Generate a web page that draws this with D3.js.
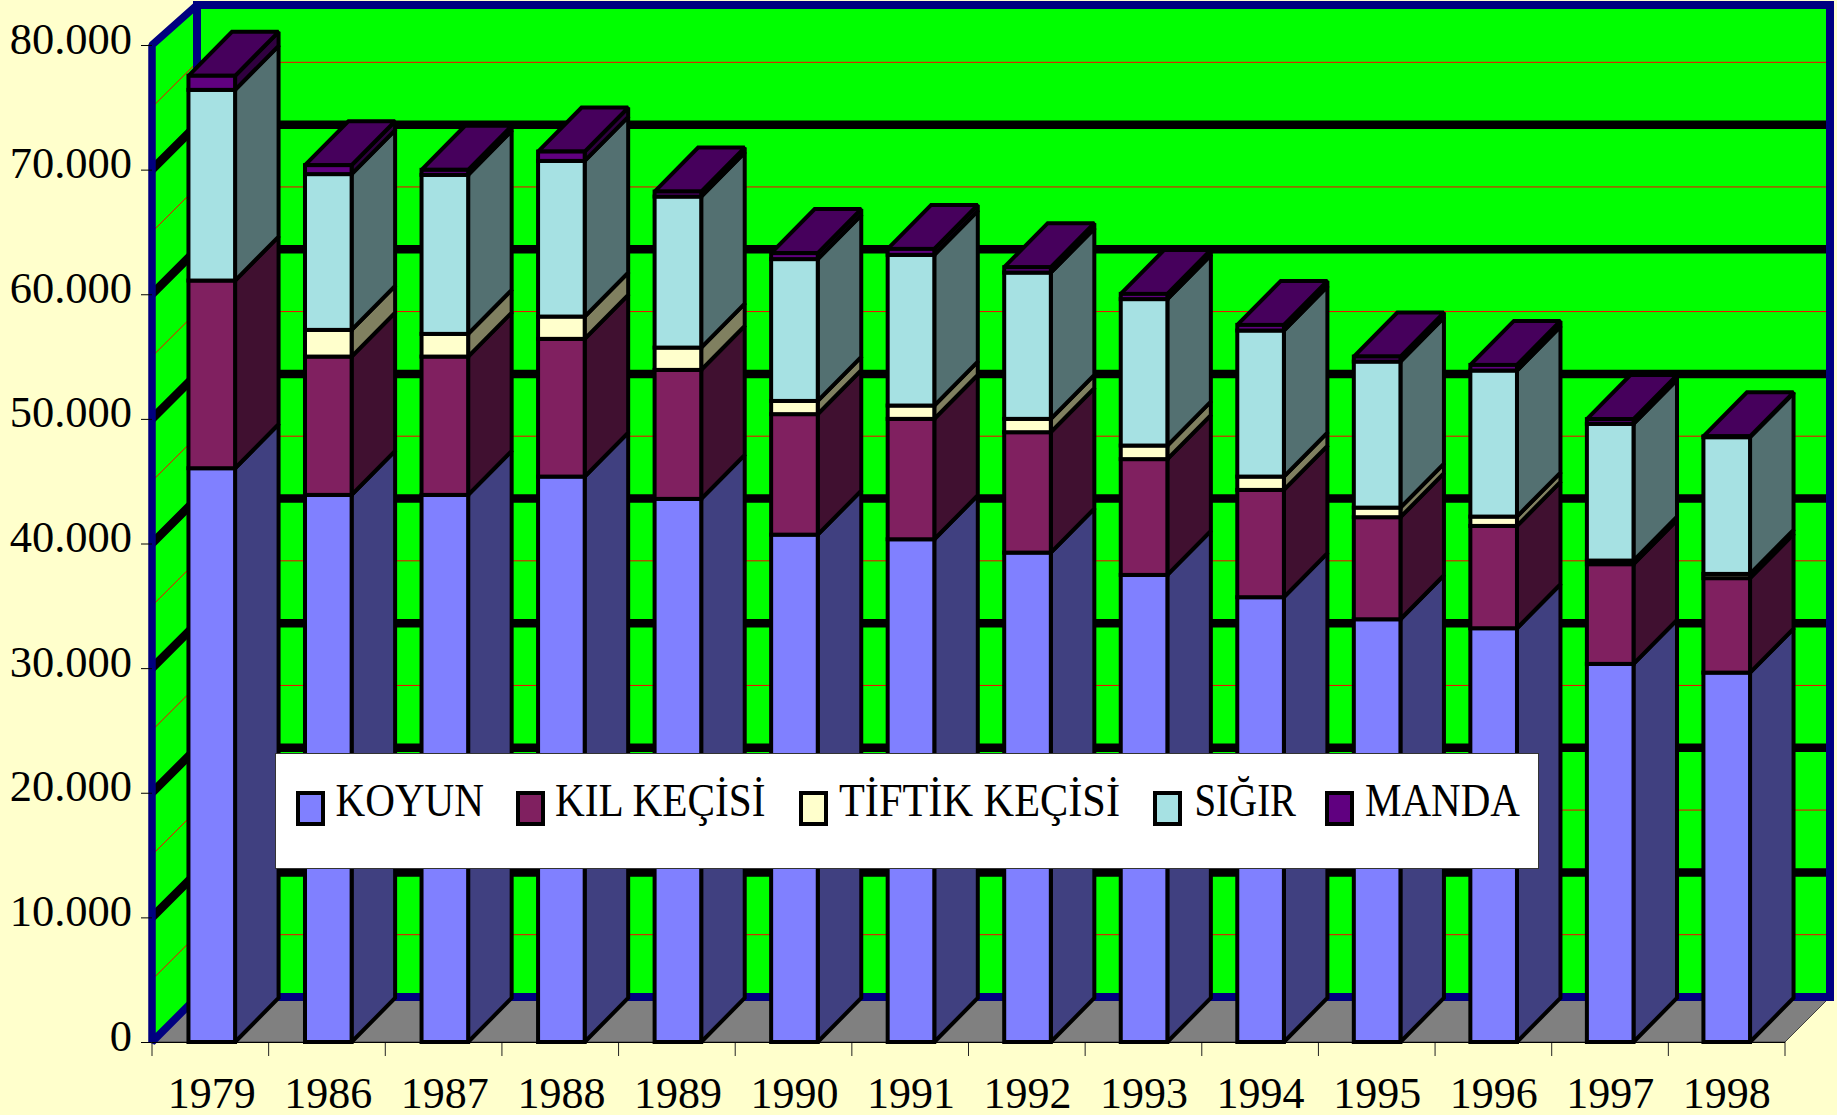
<!DOCTYPE html>
<html><head><meta charset="utf-8">
<script src="https://cdn.jsdelivr.net/npm/d3@7/dist/d3.min.js"></script>
<style>html,body{margin:0;padding:0;background:#FFFFCC;overflow:hidden}svg{display:block}text{font-family:"Liberation Serif",serif;fill:#000}</style>
</head><body><script>
const years = ["1979","1986","1987","1988","1989","1990","1991","1992","1993","1994","1995","1996","1997","1998"];
const koyun  = [46040,43900,43900,45370,43580,40710,40340,39270,37480,35690,33920,33200,30340,29640];
const kil    = [15060,11100,11100,11050,10350,9670,9660,9660,9290,8610,8190,8210,8000,7580];
const tiftik = [0,2140,1820,1790,1790,1060,1070,1070,1090,1070,770,750,290,340];
const sigir  = [15300,12500,12760,12490,12120,11380,12090,11740,11750,11720,11720,11720,10970,10970];
const manda  = [1130,720,400,750,400,480,480,430,420,450,400,450,380,70];
const seriesNames = ["KOYUN","KIL KEÇİSİ","TİFTİK KEÇİSİ","SIĞIR","MANDA"];
const seriesValues = [koyun,kil,tiftik,sigir,manda];
const frontColors = ["#8080FF","#802060","#FFFFCC","#A6E1E3","#600080"];
const sideColors  = ["#404080","#401030","#808060","#537071","#300040"];
const topColor = "#46005C";
const majorTicks = [0,10000,20000,30000,40000,50000,60000,70000,80000];
const minorGrid = [5000,15000,25000,35000,45000,55000,65000,75000];
const legendSwatchX = [296,516,799,1153,1325];
const legendTextX = [335.5,555,839,1194.5,1365];
const legendTextW = [148.5,210.5,281,101.5,155];

const W=1837,H=1115,x0=152,x1=1785,yB=1042,yT=45,wallDx=45,wallDy=-45,wallTop=5,barDx=43.5,barDy=-44;
const svg=d3.select("body").append("svg").attr("width",W).attr("height",H);
svg.append("rect").attr("width",W).attr("height",H).attr("fill","#FFFFCC");

const x=d3.scaleBand().domain(years).range([x0+1.5,x1]).paddingInner(0.6).paddingOuter(0.3);
const y=d3.scaleLinear().domain([0,80000]).range([yB,yT]);
const pts=a=>a.map(p=>p.join(",")).join(" ");

// floor
svg.append("polygon").attr("points",pts([[x0,yB],[x1,yB],[x1+wallDx,yB+wallDy],[x0+wallDx,yB+wallDy]]))
  .attr("fill","#808080").attr("stroke","#404040").attr("stroke-width",1);
// back wall
const backH=yB+wallDy-wallTop;
svg.append("rect").attr("x",x0+wallDx).attr("y",wallTop).attr("width",x1-x0).attr("height",backH).attr("fill","#00FF00");
// left wall
const leftWall=[[x0,yT],[x0+wallDx,wallTop],[x0+wallDx,yB+wallDy],[x0,yB]];
svg.append("polygon").attr("points",pts(leftWall)).attr("fill","#00FF00");

// gridlines
const grid=svg.append("g").attr("fill","none");
const gridPath=v=>`M${x0},${y(v)}L${x0+wallDx},${y(v)+wallDy}L${x1+wallDx},${y(v)+wallDy}`;
grid.selectAll(".minor").data(minorGrid).join("path").attr("d",gridPath).attr("stroke","#FF0000").attr("stroke-width",1);
grid.selectAll(".major").data(majorTicks.slice(1,-1)).join("path").attr("d",gridPath).attr("stroke","#000").attr("stroke-width",8.5);

// wall borders
svg.append("rect").attr("x",x0+wallDx).attr("y",wallTop).attr("width",x1-x0).attr("height",backH)
  .attr("fill","none").attr("stroke","#000080").attr("stroke-width",8);
svg.append("polygon").attr("points",pts(leftWall))
  .attr("fill","none").attr("stroke","#000080").attr("stroke-width",7.5).attr("stroke-linejoin","bevel");

// stacked bars
const rows=years.map((yr,i)=>{const o={year:yr};seriesNames.forEach((n,j)=>o[n]=seriesValues[j][i]);return o;});
const stacked=d3.stack().keys(seriesNames)(rows);
const faceAttrs=s=>s.attr("stroke","#000").attr("stroke-width",4).attr("stroke-linejoin","miter").attr("stroke-miterlimit",2);
years.forEach((yr,i)=>{
  const g=svg.append("g");
  const L=x(yr),R=L+x.bandwidth();
  stacked.forEach((layer,k)=>{
    const [a,b]=layer[i];
    if(b-a<=0) return;
    g.append("polygon").attr("points",pts([[R,y(a)],[R+barDx,y(a)+barDy],[R+barDx,y(b)+barDy],[R,y(b)]]))
      .attr("fill",sideColors[k]).call(faceAttrs);
  });
  const top=stacked[stacked.length-1][i][1];
  g.append("polygon").attr("points",pts([[L,y(top)],[L+barDx,y(top)+barDy],[R+barDx,y(top)+barDy],[R,y(top)]]))
    .attr("fill",topColor).call(faceAttrs);
  stacked.forEach((layer,k)=>{
    const [a,b]=layer[i];
    if(b-a<=0) return;
    g.append("rect").attr("x",L).attr("y",y(b)).attr("width",R-L).attr("height",y(a)-y(b))
      .attr("fill",frontColors[k]).call(faceAttrs);
  });
});

// axes
const loc=d3.formatLocale({decimal:",",thousands:".",grouping:[3],currency:["",""]});
const yAxis=d3.axisLeft(y).tickValues(majorTicks).tickFormat(loc.format(",d")).tickSize(11).tickPadding(9);
const gy=svg.append("g").attr("transform",`translate(${x0},0)`).call(yAxis);
gy.select(".domain").remove();
gy.selectAll(".tick line").attr("stroke","#000").attr("stroke-width",1);
gy.selectAll(".tick text").attr("font-size",44.5).attr("font-family",'"Liberation Serif",serif').attr("fill","#000").attr("dy",0).attr("y",8);

const xAxis=d3.axisBottom(x).tickSize(0).tickPadding(0);
const gx=svg.append("g").attr("transform",`translate(0,${yB})`).call(xAxis);
gx.select(".domain").remove();
gx.selectAll(".tick text").attr("font-size",44).attr("font-family",'"Liberation Serif",serif').attr("fill","#000").attr("dy",0).attr("y",66);
const edgeScale=d3.scaleLinear().domain([0,years.length]).range([x0,x1]);
gx.selectAll(".edge").data(d3.range(years.length+1)).join("line").attr("class","edge")
  .attr("x1",d=>edgeScale(d)).attr("x2",d=>edgeScale(d)).attr("y1",0).attr("y2",14).attr("stroke","#222").attr("stroke-width",1);
svg.append("line").attr("x1",x0).attr("x2",x1).attr("y1",yB+.5).attr("y2",yB+.5).attr("stroke","#000").attr("stroke-width",1);

// legend
const lg=svg.append("g");
lg.append("rect").attr("x",275.5).attr("y",753.5).attr("width",1263).attr("height",115).attr("fill","#fff").attr("stroke","#333").attr("stroke-width",1);
seriesNames.forEach((n,k)=>{
  lg.append("rect").attr("x",legendSwatchX[k]+2).attr("y",793).attr("width",25).attr("height",31)
    .attr("fill",frontColors[k]).attr("stroke","#000").attr("stroke-width",4);
  lg.append("text").attr("x",legendTextX[k]).attr("y",816).attr("font-size",47)
    .attr("textLength",legendTextW[k]).attr("lengthAdjust","spacingAndGlyphs").text(n);
});
</script></body></html>
